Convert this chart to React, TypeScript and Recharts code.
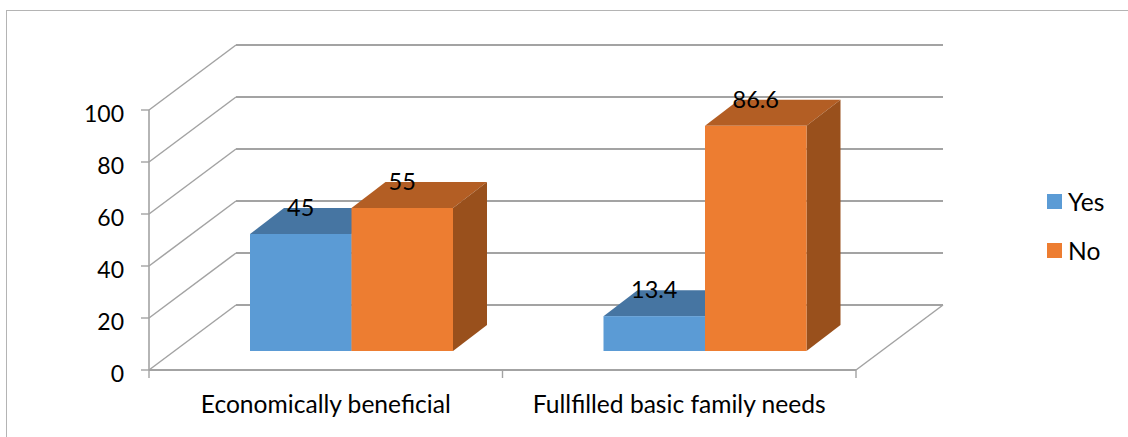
import { BarChart, Bar, XAxis, YAxis, CartesianGrid, Legend, LabelList } from 'recharts'

const categories = ['Economically beneficial', 'Fullfilled basic family needs']
const yesValues = [45, 13.4]
const noValues = [55, 86.6]
const yTicks = [0, 20, 40, 60, 80, 100]

const chartData = categories.map((name, i) => ({ name, Yes: yesValues[i], No: noValues[i] }))

const WIDTH = 1128
const HEIGHT = 437
const FONT = 'Lato, sans-serif'
const TEXT_SIZE = 24.6
const DIGIT_SIZE = 23
const GRID = '#a3a3a3'

// floor depth of the 3D box, and how far bars sit inside it
const FLOOR_DX = 87
const FLOOR_DY = 65
const INSET_DX = 26
const INSET_DY = 19
const BAR_DX = 34
const BAR_DY = 26
const BAND = 353.5

const shades: Record<string, { top: string; side: string }> = {
  '#5b9bd5': { top: '#4675a2', side: '#3f6f9c' },
  '#ed7d31': { top: '#b35e24', side: '#99501c' },
}

// back wall line plus the diagonal on the left wall, one per y tick
function WallLine({ x1, x2, y1, index }: any) {
  const backY = y1 - FLOOR_DY
  return (
    <g fill="none" stroke={GRID}>
      <line x1={x1} y1={y1} x2={x1 + FLOOR_DX} y2={backY} strokeWidth={1.5} />
      <line x1={x1 + FLOOR_DX} y1={backY} x2={x2 + FLOOR_DX} y2={backY} strokeWidth={2} />
      {index === 0 && <line x1={x2} y1={y1} x2={x2 + FLOOR_DX} y2={backY} strokeWidth={1.5} />}
    </g>
  )
}

function Box3D({ x, y, width, height, fill }: any) {
  const left = x + INSET_DX
  const right = left + width
  const top = y - INSET_DY
  const bottom = top + height
  const shade = shades[fill]
  return (
    <g>
      <polygon
        points={`${left},${top} ${right},${top} ${right + BAR_DX},${top - BAR_DY} ${left + BAR_DX},${top - BAR_DY}`}
        fill={shade.top}
      />
      <polygon
        points={`${right},${top} ${right + BAR_DX},${top - BAR_DY} ${right + BAR_DX},${bottom - BAR_DY} ${right},${bottom}`}
        fill={shade.side}
      />
      <rect x={left} y={top} width={width} height={height} fill={fill} />
    </g>
  )
}

function BarValue({ x, y, width, value }: any) {
  return (
    <text
      x={x + INSET_DX + width / 2}
      y={y - INSET_DY - 18}
      textAnchor="middle"
      fontFamily={FONT}
      fontSize={DIGIT_SIZE + 0.5}
      fill="#000"
    >
      {value}
    </text>
  )
}

// category label, with tick marks on the band edges rather than the centre
function CategoryTick({ x, payload, index }: any) {
  const tickTop = 370
  return (
    <g>
      <line x1={x - BAND / 2} y1={tickTop} x2={x - BAND / 2} y2={tickTop + 8} stroke={GRID} strokeWidth={1.4} />
      {index === categories.length - 1 && (
        <line x1={x + BAND / 2} y1={tickTop} x2={x + BAND / 2} y2={tickTop + 8} stroke={GRID} strokeWidth={1.4} />
      )}
      <text x={x} y={413} textAnchor="middle" fontFamily={FONT} fontSize={TEXT_SIZE} fill="#000">
        {payload.value}
      </text>
    </g>
  )
}

function LegendList({ payload }: any) {
  return (
    <div style={{ fontFamily: FONT, fontSize: TEXT_SIZE, color: '#000' }}>
      {(payload ?? []).map((item: any) => (
        <div key={item.value} style={{ display: 'flex', alignItems: 'center', height: 49 }}>
          <span style={{ width: 15, height: 15, background: item.color, marginRight: 6 }} />
          {item.value}
        </div>
      ))}
    </div>
  )
}

export default function App() {
  return (
    <div style={{ position: 'absolute', left: 0, top: 0, width: WIDTH, height: HEIGHT, background: '#fff', overflow: 'hidden' }}>
      <div
        style={{
          position: 'absolute',
          left: 6,
          top: 10,
          right: 0,
          bottom: 0,
          borderTop: '1px solid #b4b4b4',
          borderLeft: '1px solid #b4b4b4',
        }}
      />
      <BarChart
        width={WIDTH}
        height={HEIGHT}
        data={chartData}
        margin={{ top: 110, right: 192, bottom: 0, left: 0 }}
        barGap={0}
        barSize={101.5}
        style={{ position: 'absolute', left: 0, top: 0 }}
      >
        <CartesianGrid vertical={false} horizontal={WallLine} horizontalValues={yTicks} />
        <XAxis
          dataKey="name"
          height={67}
          axisLine={{ stroke: GRID, strokeWidth: 2 }}
          tickLine={false}
          tick={CategoryTick}
          interval={0}
        />
        <YAxis
          width={149}
          domain={[0, 100]}
          ticks={yTicks}
          axisLine={{ stroke: GRID, strokeWidth: 1.6 }}
          tickLine={{ stroke: GRID, strokeWidth: 1.4 }}
          tickSize={8}
          tickMargin={17}
          tick={{ fontFamily: FONT, fontSize: DIGIT_SIZE, fill: '#000', dy: 4 }}
        />
        <Bar dataKey="Yes" fill="#5b9bd5" shape={Box3D} isAnimationActive={false}>
          <LabelList dataKey="Yes" content={BarValue} />
        </Bar>
        <Bar dataKey="No" fill="#ed7d31" shape={Box3D} isAnimationActive={false}>
          <LabelList dataKey="No" content={BarValue} />
        </Bar>
        <Legend
          content={LegendList}
          itemSorter={null}
          layout="vertical"
          align="right"
          verticalAlign="top"
          wrapperStyle={{ left: 1047, top: 177, width: 80 }}
        />
      </BarChart>
    </div>
  )
}
